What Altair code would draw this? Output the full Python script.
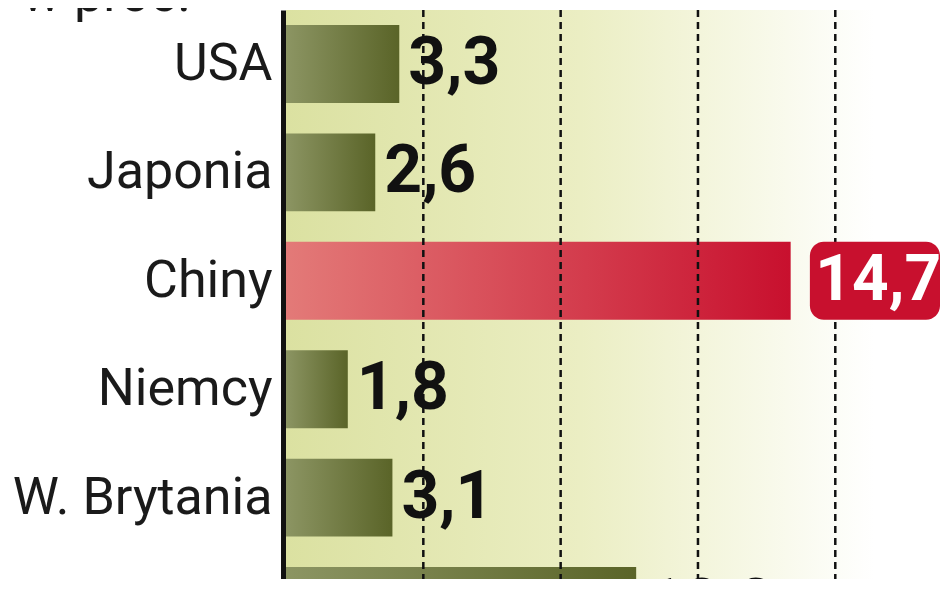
import altair as alt
import pandas as pd

countries = ["USA", "Japonia", "Chiny", "Niemcy", "W. Brytania", "Brazylia"]
values = [3.3, 2.6, 14.7, 1.8, 3.1, 10.2]
grid_values = [4, 8, 12, 16]
highlight = "Chiny"
unit_label = ["w proc."]

XMAX = 19.05

df = pd.DataFrame({"country": countries, "value": values})
df["label"] = df["value"].map(lambda v: f"{v:.1f}".replace(".", ","))
grid_df = pd.DataFrame({"g": grid_values})
bg_df = pd.DataFrame({"x0": [0.0], "x1": [XMAX]})
unit_df = pd.DataFrame({"t": unit_label})

xscale = alt.Scale(domain=[0, XMAX], nice=False, zero=True)
yscale = alt.Scale(domain=countries, range=[0, 650], paddingInner=0.281, paddingOuter=0.138)

x_enc = alt.X("value:Q", scale=xscale, axis=None)
y_enc = alt.Y(
    "country:N",
    scale=yscale,
    sort=countries,
    title=None,
    axis=alt.Axis(
        domainColor="#111111",
        domainWidth=5,
        offset=3,
        ticks=False,
        labelPadding=11,
        labelFont="Roboto",
        labelFontSize=52,
        labelColor="#1a1a1a",
        labelLimit=400,
    ),
)

bg_grad = alt.Gradient(
    gradient="linear",
    stops=[
        alt.GradientStop(offset=0, color="#dbe1a1"),
        alt.GradientStop(offset=0.45, color="#ebeec3"),
        alt.GradientStop(offset=0.9, color="#ffffff"),
        alt.GradientStop(offset=1, color="#ffffff"),
    ],
    x1=0, x2=1, y1=0, y2=0,
)
olive_grad = alt.Gradient(
    gradient="linear",
    stops=[
        alt.GradientStop(offset=0, color="#8c9563"),
        alt.GradientStop(offset=1, color="#5a6428"),
    ],
    x1=0, x2=1, y1=0, y2=0,
)
red_grad = alt.Gradient(
    gradient="linear",
    stops=[
        alt.GradientStop(offset=0, color="#e37a78"),
        alt.GradientStop(offset=1, color="#c8102e"),
    ],
    x1=0, x2=1, y1=0, y2=0,
)

background = alt.Chart(bg_df).mark_rect(fill=bg_grad).encode(
    x=alt.X("x0:Q", scale=xscale, axis=None),
    x2="x1:Q",
)

base = alt.Chart(df)

bars = base.transform_filter(alt.datum.country != highlight).mark_bar(fill=olive_grad).encode(
    x=x_enc, y=y_enc
)
bar_hi = base.transform_filter(alt.datum.country == highlight).mark_bar(fill=red_grad).encode(
    x=x_enc, y=y_enc
)

rules = alt.Chart(grid_df).mark_rule(color="#111111", strokeWidth=2.5, strokeDash=[7, 5]).encode(
    x=alt.X("g:Q", scale=xscale, axis=None)
)

val_font = "Roboto"

labels = base.transform_filter(alt.datum.country != highlight).mark_text(
    align="left", baseline="middle", dx=9, font=val_font, fontWeight="bold", fontSize=66, color="#111111"
).encode(x=x_enc, y=y_enc, text="label:N")

hi_box = base.transform_filter(alt.datum.country == highlight).transform_calculate(
    bx0="datum.value + 0.56", bx1=str(XMAX)
).mark_rect(fill="#c8102e", cornerRadius=14).encode(
    x=alt.X("bx0:Q", scale=xscale, axis=None), x2="bx1:Q", y=y_enc
)
hi_text = base.transform_filter(alt.datum.country == highlight).transform_calculate(
    tx="datum.value + 2.55"
).mark_text(
    align="center", baseline="middle", font=val_font, fontWeight="bold", fontSize=64, color="#ffffff"
).encode(x=alt.X("tx:Q", scale=xscale, axis=None), y=y_enc, text="label:N")

unit_text = alt.Chart(unit_df).mark_text(
    align="left", baseline="alphabetic", font="Roboto", fontSize=52, color="#1a1a1a"
).encode(x=alt.value(-264), y=alt.value(1), text="t:N")

chart = alt.layer(background, bars, bar_hi, rules, labels, hi_box, hi_text, unit_text).properties(
    width=654,
    height=569,
    padding={"left": 278, "top": 2, "right": 0, "bottom": 0},
    autosize=alt.AutoSizeParams(type="none"),
).configure_view(stroke=None)

chart.save("out.html", embed_options={"renderer": "svg", "actions": False})
